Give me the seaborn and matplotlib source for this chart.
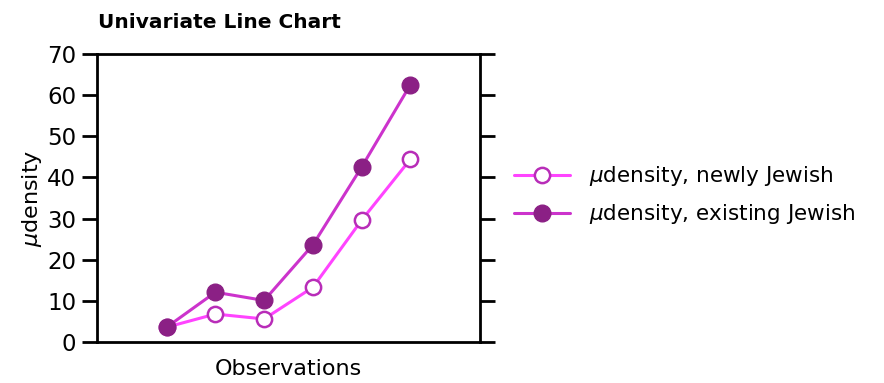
import matplotlib.pyplot as plt
import numpy as np
import pandas as pd
import seaborn as sns

sns.set_style("white")
plt.rcParams['font.family'] = ['DejaVu Sans']
plt.rcParams['text.color'] = 'black'
plt.rcParams['axes.labelcolor'] = 'black'
plt.rcParams['ytick.color'] = 'black'

# values
observations = [1, 2, 3, 4, 5, 6]
newly_jewish = [3.6, 6.8, 5.6, 13.3, 29.6, 44.4]
existing_jewish = [3.6, 12.1, 10.1, 23.6, 42.5, 62.5]
labels = [r"$\mu$density, newly Jewish", r"$\mu$density, existing Jewish"]

df = pd.DataFrame({
    "obs": observations * 2,
    "value": newly_jewish + existing_jewish,
    "series": [labels[0]] * 6 + [labels[1]] * 6,
})

fig = plt.figure(figsize=(8.84, 3.83), dpi=100)
ax = fig.add_axes([0.1097, 0.107, 0.4333, 0.752])

sns.lineplot(data=df[df.series == labels[0]], x="obs", y="value", ax=ax,
             color="#ff44ff", lw=2.2, marker="o", markersize=11,
             markerfacecolor="white", markeredgecolor="#b82db8",
             markeredgewidth=1.8, label=labels[0])
sns.lineplot(data=df[df.series == labels[1]], x="obs", y="value", ax=ax,
             color="#cc33cc", lw=2.2, marker="o", markersize=12,
             markerfacecolor="#8b2085", markeredgecolor="#8b2085",
             markeredgewidth=1, label=labels[1])

ax.set_xlim(-0.43, 7.43)
ax.set_ylim(0, 70)
ax.set_yticks(np.arange(0, 71, 10))
ax.set_xticks([])
ax.set_xlabel("Observations", fontsize=16, labelpad=12)
ax.set_ylabel(r"$\mu$density", fontsize=16, labelpad=2)
ax.tick_params(axis="y", direction="out", length=11, width=2, labelsize=16.5,
               left=True, right=True, pad=4)
for s in ax.spines.values():
    s.set_linewidth(2)
    s.set_color("black")

ax.set_title("Univariate Line Chart", fontsize=14.5, fontweight="bold",
             loc="left", x=0.003, y=1.06)

ax.get_legend().remove()
h, l = ax.get_legend_handles_labels()
fig.legend(h, l, loc="center left", bbox_to_anchor=(0.559, 0.49),
           frameon=False, fontsize=15.5, handlelength=2.6, handletextpad=0.9,
           labelspacing=0.65)

fig.savefig("out.png", dpi=100)
